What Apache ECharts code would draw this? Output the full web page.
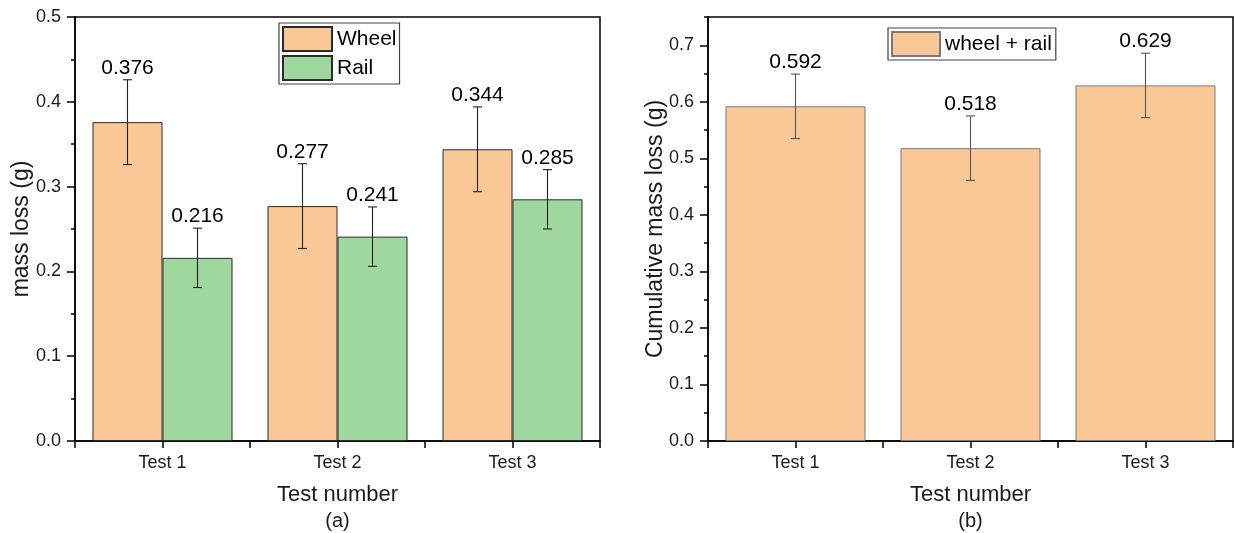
<!DOCTYPE html>
<html>
<head>
<meta charset="utf-8">
<title>Mass loss per test</title>
<script src="https://cdn.jsdelivr.net/npm/echarts@6/dist/echarts.min.js"></script>
<style>
  html, body { margin: 0; padding: 0; background: #fff; }
  #chart { width: 1234px; height: 533px; }
</style>
</head>
<body>
<div id="chart"></div>
<script>
// Test categories
const categories = ['Test 1', 'Test 2', 'Test 3'];

// (a) mass loss of wheel and rail specimens, with standard deviations (g)
const wheelLoss = [0.376, 0.277, 0.344];
const wheelErr = [0.05, 0.05, 0.05];
const railLoss = [0.216, 0.241, 0.285];
const railErr = [0.035, 0.035, 0.035];

// (b) cumulative mass loss, wheel + rail (g)
const totalLoss = [0.592, 0.518, 0.629];
const totalErr = [0.057, 0.057, 0.057];

// Axis ranges and tick values
const leftMax = 0.5;
const rightMax = 0.75;
const rightMajorTicks = [0, 0.1, 0.2, 0.3, 0.4, 0.5, 0.6, 0.7];

const FONT = '"Liberation Sans", Arial, sans-serif';
const WHEEL_COLOR = '#FAC897';
const RAIL_COLOR = '#9FD89E';

const chart = echarts.init(document.getElementById('chart'), null, { renderer: 'canvas' });

// Error bar + value label for a bar; slot/slots give the bar's position inside its category
function errorBarRenderer(slots, color) {
  return function (params, api) {
    const cat = api.value(0);
    const val = api.value(1);
    const err = api.value(2);
    const slot = api.value(3);
    const band = api.size([1, 0])[0];
    const barW = band * 0.8 / slots;
    const cx = api.coord([cat, 0])[0] - band * 0.4 + barW * (slot + 0.5);
    const yTop = api.coord([cat, val + err])[1];
    const yBot = api.coord([cat, val - err])[1];
    const cap = 4.5;
    const ls = { stroke: color, lineWidth: 1.1 };
    return {
      type: 'group',
      children: [
        { type: 'line', shape: { x1: cx, y1: yTop, x2: cx, y2: yBot }, style: ls },
        { type: 'line', shape: { x1: cx - cap, y1: yTop, x2: cx + cap, y2: yTop }, style: ls },
        { type: 'line', shape: { x1: cx - cap, y1: yBot, x2: cx + cap, y2: yBot }, style: ls },
        {
          type: 'text',
          x: cx, y: yTop - 1,
          style: {
            text: val.toFixed(3),
            fill: '#000',
            font: '21px ' + FONT,
            align: 'center',
            verticalAlign: 'bottom'
          }
        }
      ]
    };
  };
}

function errData(values, errs, slot) {
  return values.map((v, i) => [i, v, errs[i], slot]);
}

function catAxes(gridIndex) {
  return [
    {
      // boundary ticks + labels
      type: 'category', gridIndex, data: categories, position: 'bottom',
      axisLine: { lineStyle: { color: '#000', width: 1.5 } },
      axisTick: { show: true, alignWithLabel: false, inside: false, length: 7, lineStyle: { color: '#000', width: 1.5 } },
      axisLabel: { color: '#1a1a1a', fontFamily: FONT, fontSize: 18, margin: 13 },
      name: 'Test number', nameLocation: 'middle', nameGap: 43, nameMoveOverlap: false,
      nameTextStyle: { color: '#1a1a1a', fontFamily: FONT, fontSize: 22 },
      splitLine: { show: false }
    },
    {
      // centre ticks under each category
      type: 'category', gridIndex, data: categories, position: 'bottom',
      axisLine: { show: false },
      axisTick: { show: true, alignWithLabel: true, length: 7, lineStyle: { color: '#000', width: 1.5 } },
      axisLabel: { show: false },
      splitLine: { show: false }
    }
  ];
}

function valAxes(gridIndex, max, name, nameGap, tickValues) {
  const main = {
    type: 'value', gridIndex, min: 0, max, interval: 0.1,
    axisLine: { show: true, lineStyle: { color: '#000', width: 1.5 } },
    axisTick: { show: true, length: 8, lineStyle: { color: '#000', width: 1.5 } },
    axisLabel: {
      color: '#1a1a1a', fontFamily: FONT, fontSize: 18, margin: 14,
      formatter: v => v.toFixed(1)
    },
    splitLine: { show: false },
    name, nameLocation: 'middle', nameRotate: 90, nameGap, nameMoveOverlap: false,
    nameTextStyle: { color: '#1a1a1a', fontFamily: FONT, fontSize: 23 }
  };
  if (tickValues) {
    main.axisTick.customValues = tickValues;
    main.axisLabel.customValues = tickValues;
  }
  const minor = {
    type: 'value', gridIndex, min: 0, max, interval: 0.05, position: 'left',
    axisLine: { show: false },
    axisTick: { show: true, length: 4, lineStyle: { color: '#000', width: 1.5 } },
    axisLabel: { show: false },
    splitLine: { show: false }
  };
  return [main, minor];
}

const option = {
  backgroundColor: '#fff',
  animation: false,
  textStyle: { fontFamily: FONT },
  grid: [
    { left: 75, top: 17, width: 525, height: 424, show: true, borderColor: '#000', borderWidth: 1.5, backgroundColor: 'transparent' },
    { left: 708, top: 17, width: 525, height: 424, show: true, borderColor: '#000', borderWidth: 1.5, backgroundColor: 'transparent' }
  ],
  legend: [
    {
      data: ['Wheel', 'Rail'],
      orient: 'vertical', left: 279, top: 23,
      itemWidth: 49, itemHeight: 24, itemGap: 3, padding: 3,
      borderColor: '#444', borderWidth: 1.2, backgroundColor: '#fff',
      icon: 'rect',
      textStyle: { color: '#000', fontFamily: FONT, fontSize: 21, lineHeight: 24 }
    },
    {
      data: ['wheel + rail'],
      orient: 'vertical', left: 888, top: 28,
      itemWidth: 48, itemHeight: 24, padding: [3, 4, 3, 3],
      borderColor: '#444', borderWidth: 1.2, backgroundColor: '#fff',
      icon: 'rect',
      textStyle: { color: '#000', fontFamily: FONT, fontSize: 21, lineHeight: 24 }
    }
  ],
  xAxis: [...catAxes(0), ...catAxes(1)],
  yAxis: [
    ...valAxes(0, leftMax, 'mass loss (g)', 42, null),
    ...valAxes(1, rightMax, 'Cumulative mass loss (g)', 41, rightMajorTicks)
  ],
  series: [
    {
      name: 'Wheel', type: 'bar', xAxisIndex: 0, yAxisIndex: 0,
      data: wheelLoss, barGap: '0%', barCategoryGap: '20%',
      itemStyle: { color: WHEEL_COLOR, borderColor: '#2b2b2b', borderWidth: 1 }
    },
    {
      name: 'Rail', type: 'bar', xAxisIndex: 0, yAxisIndex: 0,
      data: railLoss, barGap: '0%', barCategoryGap: '20%',
      itemStyle: { color: RAIL_COLOR, borderColor: '#2b2b2b', borderWidth: 1 }
    },
    {
      name: 'wheel + rail', type: 'bar', xAxisIndex: 2, yAxisIndex: 2,
      data: totalLoss, barCategoryGap: '20%',
      itemStyle: { color: WHEEL_COLOR, borderColor: '#7a7a7a', borderWidth: 1 }
    },
    {
      type: 'custom', xAxisIndex: 0, yAxisIndex: 0, z: 5,
      renderItem: errorBarRenderer(2, '#1f1f1f'),
      data: errData(wheelLoss, wheelErr, 0).concat(errData(railLoss, railErr, 1))
    },
    {
      type: 'custom', xAxisIndex: 2, yAxisIndex: 2, z: 5,
      renderItem: errorBarRenderer(1, '#555'),
      data: errData(totalLoss, totalErr, 0)
    }
  ],
  graphic: [
    { type: 'text', x: 337.5, y: 521, style: { text: '(a)', fill: '#1a1a1a', font: '20px ' + FONT, align: 'center', verticalAlign: 'middle' } },
    { type: 'text', x: 970.5, y: 521, style: { text: '(b)', fill: '#1a1a1a', font: '20px ' + FONT, align: 'center', verticalAlign: 'middle' } }
  ]
};

chart.setOption(option);
</script>
</body>
</html>
